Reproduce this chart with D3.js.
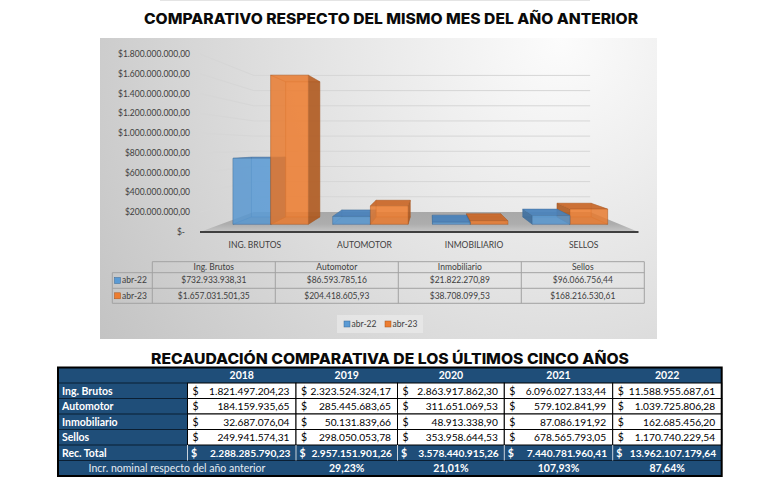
<!DOCTYPE html>
<html><head><meta charset="utf-8">
<script src="https://cdn.jsdelivr.net/npm/d3@7/dist/d3.min.js"></script>
<style>body{margin:0;background:#fff;} svg{display:block}</style>
</head><body>
<svg id="c" width="768" height="488"></svg>
<script>
// ---------- DATA ----------
const categories = ["ING. BRUTOS", "AUTOMOTOR", "INMOBILIARIO", "SELLOS"];
const tableCategories = ["Ing. Brutos", "Automotor", "Inmobiliario", "Sellos"];
const seriesNames = ["abr-22", "abr-23"];
const abr22 = [732933938.31, 86593785.16, 21822270.89, 96066756.44];
const abr23 = [1657031501.35, 204418605.93, 38708099.53, 168216530.61];
const yTicks = [0, 2e8, 4e8, 6e8, 8e8, 1e9, 1.2e9, 1.4e9, 1.6e9, 1.8e9];

const years = ["2018", "2019", "2020", "2021", "2022"];
const rowLabels = ["Ing. Brutos", "Automotor", "Inmobiliario", "Sellos"];
const ingBrutos = [1821497204.23, 2323524324.17, 2863917862.30, 6096027133.44, 11588955687.61];
const automotor = [184159935.65, 285445683.65, 311651069.53, 579102841.99, 1039725806.28];
const inmobiliario = [32687076.04, 50131839.66, 48913338.90, 87086191.92, 162685456.20];
const sellos = [249941574.31, 298050053.78, 353958644.53, 678565793.05, 1170740229.54];
const recTotal = [2288285790.23, 2957151901.26, 3578440915.26, 7440781960.41, 13962107179.64];
const incrNominal = [null, 29.23, 21.01, 107.93, 87.64];

const title1 = "COMPARATIVO RESPECTO DEL MISMO MES DEL AÑO ANTERIOR";
const title2 = "RECAUDACIÓN COMPARATIVA DE LOS ÚLTIMOS CINCO AÑOS";
const incrLabel = "Incr. nominal respecto del año anterior";
const totalLabel = "Rec. Total";

// ---------- SETUP ----------
const loc = d3.formatLocale({decimal: ",", thousands: ".", grouping: [3], currency: ["$", ""]});
const fmtCur = loc.format("$,.2f");
const fmtNum = loc.format(",.2f");
const fmtPct = v => loc.format(",.2f")(v) + "%";

const svg = d3.select("#c");
const defs = svg.append("defs");
const rg = defs.append("radialGradient").attr("id", "bg").attr("gradientUnits", "userSpaceOnUse")
  .attr("cx", 560).attr("cy", 40).attr("r", 560);
rg.append("stop").attr("offset", 0).attr("stop-color", "#fcfcfc");
rg.append("stop").attr("offset", 0.45).attr("stop-color", "#e3e3e3");
rg.append("stop").attr("offset", 1).attr("stop-color", "#c2c2c2");
const fg = defs.append("linearGradient").attr("id", "floor").attr("x1", 0).attr("x2", 0).attr("y1", 0).attr("y2", 1);
fg.append("stop").attr("offset", 0).attr("stop-color", "#a8a8a8");
fg.append("stop").attr("offset", 0.6).attr("stop-color", "#adadad");
fg.append("stop").attr("offset", 1).attr("stop-color", "#c6c6c6");

const FONT = "Lato, 'Open Sans', sans-serif";
const TFONT = "Inter, 'DejaVu Sans', sans-serif";
const CFS = 8.5;

svg.append("line").attr("x1", 160).attr("x2", 590).attr("y1", 0.5).attr("y2", 0.5).attr("stroke", "#e4e4e4");

function title(txt, cx, base, w) {
  svg.append("text").attr("x", cx).attr("y", base).attr("text-anchor", "middle")
    .attr("font-family", TFONT).attr("font-weight", 800).attr("font-size", 14.5).attr("fill", "#0a0a0a")
    .attr("textLength", w).attr("lengthAdjust", "spacingAndGlyphs").text(txt);
}
title(title1, 391, 23.5, 494);

// chart area
svg.append("rect").attr("x", 100).attr("y", 38).attr("width", 557).attr("height", 301).attr("fill", "url(#bg)");

// ---------- 3D CHART ----------
const x = d3.scaleBand().domain(categories).range([200, 638.5]).paddingInner(0.244).paddingOuter(0.122);
const xs = d3.scaleBand().domain(seriesNames).range([0, x.bandwidth()]);
const y = d3.scaleLinear().domain([0, 1.8e9]).range([232, 54]);
const VP = [431, 146];
const S_FRONT = 1, S_BACK = 0.767, S_BF = 0.91, S_BB = 0.825;
const P = (px, py, s) => [VP[0] + (px - VP[0]) * s, VP[1] + (py - VP[1]) * s];
const xl = x.range()[0], xr = x.range()[1];
const poly = pts => "M" + pts.map(p => p[0].toFixed(2) + "," + p[1].toFixed(2)).join("L") + "Z";

const g = svg.append("g");
yTicks.filter(v => v > 0).forEach(v => {
  const a = P(xl, y(v), S_FRONT), b = P(xl, y(v), S_BACK), c = P(xr, y(v), S_BACK);
  g.append("path").attr("d", `M${a}L${b}L${c}`).attr("fill", "none").attr("stroke", "#d6d6d6").attr("stroke-width", 1);
});
const fl = [P(xl, y(0), S_FRONT), P(xr, y(0), S_FRONT), P(xr, y(0), S_BACK), P(xl, y(0), S_BACK)];
g.append("path").attr("d", poly(fl)).attr("fill", "url(#floor)");
g.append("line").attr("x1", fl[0][0]).attr("x2", fl[1][0]).attr("y1", fl[0][1]).attr("y2", fl[1][1])
  .attr("stroke", "#3f3f3f").attr("stroke-width", 1.8);

yTicks.forEach(v => {
  svg.append("text").attr("x", v === 0 ? 185 : 190).attr("y", y(v)).attr("dy", "0.35em")
    .attr("text-anchor", "end").attr("font-family", FONT).attr("font-size", CFS).attr("fill", "#404040")
    .text(v === 0 ? "$-" : fmtCur(v));
});
categories.forEach(c => {
  svg.append("text").attr("x", x(c) + x.bandwidth() / 2).attr("y", 245).attr("dy", "0.35em")
    .attr("text-anchor", "middle").attr("font-family", FONT).attr("font-size", CFS).attr("fill", "#404040").text(c);
});

const seriesVals = [abr22, abr23];
const colors = [
  {front: "#5b9bd5", side: "#3d6d9c", top: "#4a82ba", edge: "#3a6896"},
  {front: "#ed7d31", side: "#ab5820", top: "#c9682a", edge: "#a5541d"}
];
const bars = svg.append("g");
categories.forEach((c, i) => {
  const center = x(c) + x.bandwidth() / 2;
  const order = center < VP[0] ? [0, 1] : [1, 0];
  order.forEach(j => {
    const v = seriesVals[j][i];
    const x0 = x(c) + xs(seriesNames[j]), x1 = x0 + xs.bandwidth();
    const y0 = y(0), y1 = y(v);
    const F = [P(x0, y0, S_BF), P(x1, y0, S_BF), P(x1, y1, S_BF), P(x0, y1, S_BF)];
    const B = [P(x0, y0, S_BB), P(x1, y0, S_BB), P(x1, y1, S_BB), P(x0, y1, S_BB)];
    const col = colors[j];
    const faces = [
      {pts: B, fill: col.front, op: 0.4},
      {pts: [F[0], F[1], B[1], B[0]], fill: col.side, op: 0.35},
      {pts: [F[0], F[3], B[3], B[0]], fill: col.side, op: center < VP[0] ? 0.3 : 0.85},
      {pts: [F[1], F[2], B[2], B[1]], fill: col.side, op: center < VP[0] ? 0.85 : 0.3},
      {pts: [F[3], F[2], B[2], B[3]], fill: col.top, op: y1 > VP[1] ? 0.9 : 0.4},
      {pts: F, fill: col.front, op: 0.78}
    ];
    faces.forEach(f => {
      bars.append("path").attr("d", poly(f.pts)).attr("fill", f.fill).attr("fill-opacity", f.op)
        .attr("stroke", col.edge).attr("stroke-width", 0.5).attr("stroke-opacity", 0.55);
    });
  });
});

// data table inside chart
const tCols = [112.3, 152.3, 275.3, 398.3, 521.3, 644.3];
const tRows = [261.7, 272.7, 288.3, 303.3];
const tg = svg.append("g").attr("stroke", "#a2a2a2").attr("stroke-width", 1).attr("fill", "none");
tg.append("line").attr("x1", tCols[1]).attr("x2", tCols[5]).attr("y1", tRows[0]).attr("y2", tRows[0]);
[1, 2, 3].forEach(r => tg.append("line").attr("x1", tCols[0]).attr("x2", tCols[5]).attr("y1", tRows[r]).attr("y2", tRows[r]));
tg.append("line").attr("x1", tCols[0]).attr("x2", tCols[0]).attr("y1", tRows[1]).attr("y2", tRows[3]);
[1, 2, 3, 4, 5].forEach(k => tg.append("line").attr("x1", tCols[k]).attr("x2", tCols[k]).attr("y1", tRows[0]).attr("y2", tRows[3]));
tableCategories.forEach((c, k) => {
  const cx = (tCols[k + 1] + tCols[k + 2]) / 2;
  svg.append("text").attr("x", cx).attr("y", (tRows[0] + tRows[1]) / 2).attr("dy", "0.35em").attr("text-anchor", "middle")
    .attr("font-family", FONT).attr("font-size", CFS).attr("fill", "#404040").text(c);
  seriesVals.forEach((vals, j) => {
    svg.append("text").attr("x", cx).attr("y", (tRows[j + 1] + tRows[j + 2]) / 2).attr("dy", "0.35em").attr("text-anchor", "middle")
      .attr("font-family", FONT).attr("font-size", CFS).attr("fill", "#404040").text(fmtCur(vals[k]));
  });
});
seriesNames.forEach((s, j) => {
  const cy = (tRows[j + 1] + tRows[j + 2]) / 2;
  svg.append("rect").attr("x", 114.5).attr("y", cy - 3).attr("width", 6).attr("height", 6).attr("fill", colors[j].front)
    .attr("stroke", colors[j].edge).attr("stroke-width", 0.5);
  svg.append("text").attr("x", 122).attr("y", cy).attr("dy", "0.35em").attr("font-family", FONT).attr("font-size", CFS)
    .attr("fill", "#404040").text(s);
});

// legend
svg.append("rect").attr("x", 337).attr("y", 315).attr("width", 86).attr("height", 18).attr("fill", "#ececec").attr("fill-opacity", 0.6);
const legX = [344, 385];
seriesNames.forEach((s, j) => {
  svg.append("rect").attr("x", legX[j]).attr("y", 321).attr("width", 6).attr("height", 6).attr("fill", colors[j].front)
    .attr("stroke", colors[j].edge).attr("stroke-width", 0.5);
  svg.append("text").attr("x", legX[j] + 7.5).attr("y", 324).attr("dy", "0.35em").attr("font-family", FONT).attr("font-size", CFS)
    .attr("fill", "#404040").text(s);
});

// ---------- BOTTOM TABLE ----------
title(title2, 390, 364, 478);
const BLUE = "#1f4e79";
const cols = [58, 187.5, 296, 397.5, 504.3, 612.7, 721.7];
const rh = 15.5, tableTop = 367.5;
const rowsY = d3.range(8).map(k => tableTop + k * rh);
const bt = svg.append("g");
bt.append("rect").attr("x", cols[0]).attr("y", rowsY[0]).attr("width", cols[6] - cols[0]).attr("height", rowsY[7] - rowsY[0]).attr("fill", BLUE);
const dataRows = [ingBrutos, automotor, inmobiliario, sellos];
dataRows.forEach((vals, r) => {
  vals.forEach((v, k) => {
    bt.append("rect").attr("x", cols[k + 1]).attr("y", rowsY[r + 1]).attr("width", cols[k + 2] - cols[k + 1]).attr("height", rh)
      .attr("fill", "#fff").attr("stroke", "#000").attr("stroke-width", 1);
  });
});
[1, 2, 3, 4, 5, 6].forEach(r => bt.append("line").attr("x1", cols[0]).attr("x2", cols[1]).attr("y1", rowsY[r]).attr("y2", rowsY[r]).attr("stroke", "#0b1f33").attr("stroke-width", 1));
bt.append("line").attr("x1", cols[1]).attr("x2", cols[6]).attr("y1", rowsY[6]).attr("y2", rowsY[6]).attr("stroke", "#0b1f33").attr("stroke-width", 1);
[1, 2, 3, 4, 5].forEach(k => bt.append("line").attr("x1", cols[k]).attr("x2", cols[k]).attr("y1", rowsY[5]).attr("y2", rowsY[6]).attr("stroke", "#c8d2dc").attr("stroke-width", 1));
bt.append("rect").attr("x", cols[0]).attr("y", rowsY[0]).attr("width", cols[6] - cols[0]).attr("height", rowsY[7] - rowsY[0])
  .attr("fill", "none").attr("stroke", "#000").attr("stroke-width", 2);

const TS = 10.5;
function txt(xp, yp, s, opt) {
  return svg.append("text").attr("x", xp).attr("y", yp).attr("font-family", FONT).attr("font-size", opt.size || TS)
    .attr("font-weight", opt.bold ? 700 : 400).attr("fill", opt.fill || "#000").attr("text-anchor", opt.anchor || "start").text(s);
}
const base = r => rowsY[r] + rh / 2 + 3.8;
years.forEach((yr, k) => txt((cols[k + 1] + cols[k + 2]) / 2, base(0), yr, {bold: true, fill: "#fff", anchor: "middle"}));
rowLabels.forEach((l, r) => txt(62, base(r + 1), l, {bold: true, fill: "#fff"}));
txt(62, base(5), totalLabel, {bold: true, fill: "#fff"});
dataRows.forEach((vals, r) => vals.forEach((v, k) => {
  txt(cols[k + 1] + 5, base(r + 1), "$", {});
  txt(cols[k + 2] - 6.5, base(r + 1), fmtNum(v), {anchor: "end", size: 10.2});
}));
recTotal.forEach((v, k) => {
  txt(cols[k + 1] + 3.5, base(5), "$", {bold: true, fill: "#fff"});
  txt(cols[k + 2] - 5.5, base(5), fmtNum(v), {bold: true, fill: "#fff", anchor: "end", size: 10.2});
});
txt((cols[0] + cols[2]) / 2, base(6), incrLabel, {fill: "#e6ecf2", anchor: "middle"});
incrNominal.forEach((v, k) => {
  if (v === null) return;
  txt((cols[k + 1] + cols[k + 2]) / 2, base(6), fmtPct(v), {bold: true, fill: "#fff", anchor: "middle"});
});
</script>
</body></html>
